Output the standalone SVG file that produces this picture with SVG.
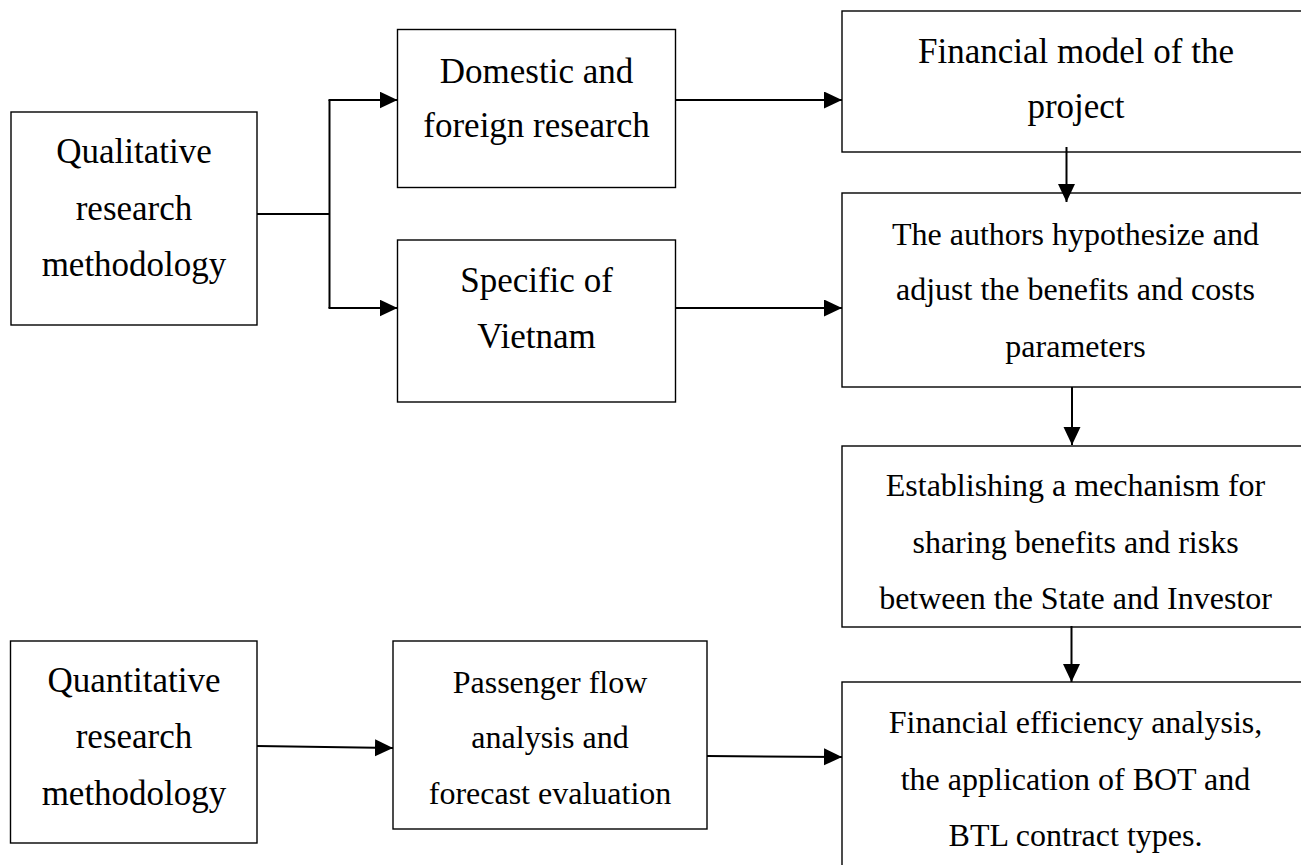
<svg xmlns="http://www.w3.org/2000/svg" width="1301" height="865" viewBox="0 0 1301 865">
<style>
.box{fill:#fff;stroke:#000;stroke-width:1.4}
.t35{font-family:"Liberation Serif","Times New Roman",serif;font-size:35px;fill:#000;text-anchor:middle}
.t32{font-family:"Liberation Serif","Times New Roman",serif;font-size:32px;fill:#000;text-anchor:middle}
.ln{fill:none;stroke:#000;stroke-width:2}
.ar{fill:none;stroke:#000;stroke-width:2;marker-end:url(#ah)}
</style>
<defs>
<marker id="ah" markerUnits="userSpaceOnUse" markerWidth="18" markerHeight="18" refX="18" refY="8.5" orient="auto">
<path d="M0,0 L18,8.5 L0,17 Z" fill="#000"/>
</marker>
</defs>
<rect width="1301" height="865" fill="#fff"/>

<g id="qualitative">
<rect class="box" x="11" y="112" width="246" height="213"/>
<text class="t35" x="134" y="163">Qualitative</text>
<text class="t35" x="134" y="220">research</text>
<text class="t35" x="134" y="276">methodology</text>
</g>

<g id="domestic">
<rect class="box" x="397.5" y="29.5" width="278" height="158"/>
<text class="t35" x="536.5" y="83">Domestic and</text>
<text class="t35" x="536.5" y="137">foreign research</text>
</g>

<g id="specific">
<rect class="box" x="397.5" y="240" width="278" height="162"/>
<text class="t35" x="536.5" y="292">Specific of</text>
<text class="t35" x="536.5" y="348">Vietnam</text>
</g>

<g id="financial-model">
<rect class="box" x="842" y="11" width="470" height="141"/>
<text class="t35" x="1076" y="63">Financial model of the</text>
<text class="t35" x="1076" y="118">project</text>
</g>

<g id="authors">
<rect class="box" x="842" y="193" width="470" height="194"/>
<text class="t32" x="1075.5" y="245">The authors hypothesize and</text>
<text class="t32" x="1075.5" y="300">adjust the benefits and costs</text>
<text class="t32" x="1075.5" y="357">parameters</text>
</g>

<g id="mechanism">
<rect class="box" x="842" y="446" width="470" height="181"/>
<text class="t32" x="1075.5" y="496">Establishing a mechanism for</text>
<text class="t32" x="1075.5" y="553">sharing benefits and risks</text>
<text class="t32" x="1075.5" y="609">between the State and Investor</text>
</g>

<g id="efficiency">
<rect class="box" x="842" y="682" width="470" height="200"/>
<text class="t32" x="1075.5" y="733">Financial efficiency analysis,</text>
<text class="t32" x="1075.5" y="790">the application of BOT and</text>
<text class="t32" x="1075.5" y="846">BTL contract types.</text>
</g>

<g id="quantitative">
<rect class="box" x="10.5" y="641" width="246.5" height="202"/>
<text class="t35" x="134" y="692">Quantitative</text>
<text class="t35" x="134" y="748">research</text>
<text class="t35" x="134" y="805">methodology</text>
</g>

<g id="passenger">
<rect class="box" x="393" y="641" width="314" height="188"/>
<text class="t32" x="550" y="693">Passenger flow</text>
<text class="t32" x="550" y="748">analysis and</text>
<text class="t32" x="550" y="804">forecast evaluation</text>
</g>

<g id="connectors">
<path class="ln" d="M257,214 H329.5"/>
<path class="ln" d="M329.5,100 V308"/>
<path class="ar" d="M328.5,100 H397.5"/>
<path class="ar" d="M328.5,308 H397.5"/>
<path class="ar" d="M676,100 H842"/>
<path class="ar" d="M676,308 H842"/>
<path class="ar" d="M1066.5,147 V202"/>
<path class="ar" d="M1072,387 V445"/>
<path class="ar" d="M1071.5,626 V682"/>
<path class="ar" d="M257,746 L393,748"/>
<path class="ar" d="M707,756 L842,757"/>
</g>
</svg>
